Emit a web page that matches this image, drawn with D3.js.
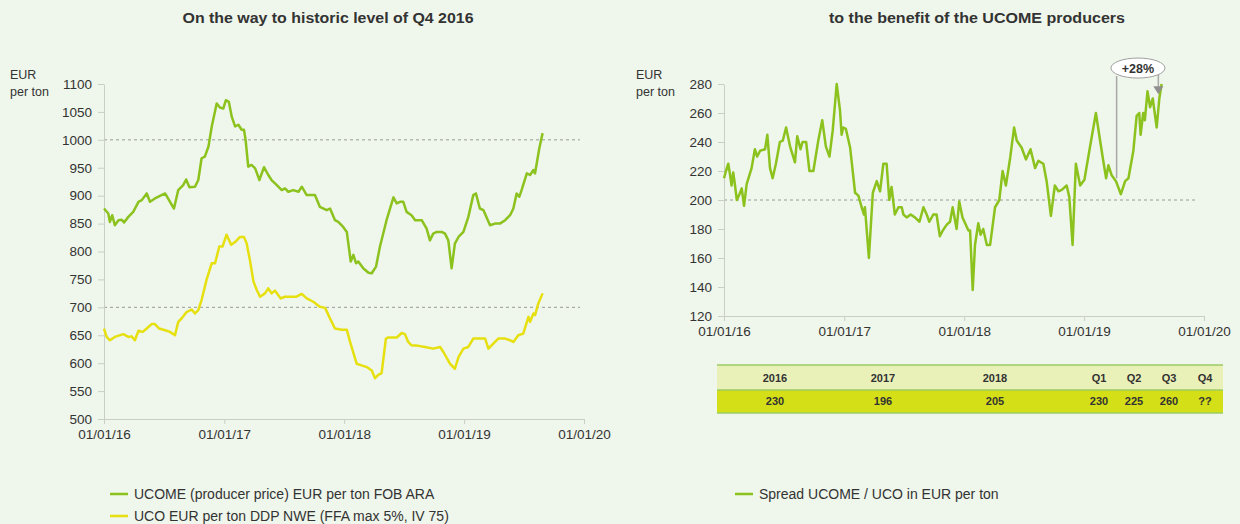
<!DOCTYPE html>
<html>
<head>
<meta charset="utf-8">
<script src="https://cdn.jsdelivr.net/npm/d3@7"></script>
<style>
  body { margin: 0; background: #eff6eb; }
  svg text { font-family: "Liberation Sans", Arial, sans-serif; fill: #333; }
</style>
</head>
<body>
<svg id="chart" width="1240" height="524"></svg>
<script>
// UCOME producer price, EUR per ton FOB ARA
const ucome = [
  ["2016-01-01",877],["2016-01-14",868],["2016-01-19",853],["2016-01-26",865],["2016-02-03",847],
  ["2016-02-14",856],["2016-02-24",857],["2016-03-02",852],["2016-03-15",862],["2016-03-30",871],
  ["2016-04-15",889],["2016-04-25",892],["2016-05-10",904],["2016-05-20",889],["2016-06-04",895],
  ["2016-07-05",904],["2016-07-20",889],["2016-08-01",877],["2016-08-14",910],["2016-08-29",919],
  ["2016-09-07",929],["2016-09-17",915],["2016-10-04",916],["2016-10-14",928],["2016-10-24",967],
  ["2016-11-03",970],["2016-11-14",988],["2016-11-24",1024],["2016-12-09",1065],["2016-12-19",1058],
  ["2016-12-29",1056],["2017-01-06",1071],["2017-01-15",1068],["2017-01-24",1041],["2017-02-03",1024],
  ["2017-02-13",1027],["2017-02-23",1018],["2017-03-02",1018],["2017-03-07",1000],["2017-03-15",952],
  ["2017-03-25",955],["2017-04-05",949],["2017-04-18",928],["2017-05-02",951],["2017-05-15",937],
  ["2017-05-25",928],["2017-06-10",919],["2017-06-25",910],["2017-07-05",913],["2017-07-15",907],
  ["2017-07-30",910],["2017-08-15",907],["2017-08-25",916],["2017-09-09",901],["2017-10-04",901],
  ["2017-10-19",880],["2017-11-09",874],["2017-11-19",877],["2017-12-04",856],["2017-12-14",853],
  ["2017-12-29",844],["2018-01-09",835],["2018-01-21",782],["2018-01-29",794],["2018-02-06",779],
  ["2018-02-13",782],["2018-02-28",770],["2018-03-16",762],["2018-03-26",761],["2018-04-08",773],
  ["2018-04-20",809],["2018-05-10",856],["2018-05-31",897],["2018-06-10",886],["2018-06-20",889],
  ["2018-06-30",889],["2018-07-10",871],["2018-07-25",865],["2018-08-05",856],["2018-08-25",856],
  ["2018-09-09",841],["2018-09-19",820],["2018-09-29",832],["2018-10-10",835],["2018-10-25",835],
  ["2018-11-04",832],["2018-11-14",820],["2018-11-24",770],["2018-12-04",814],["2018-12-15",826],
  ["2018-12-30",835],["2019-01-14",862],["2019-01-29",901],["2019-02-06",904],["2019-02-18",877],
  ["2019-03-01",874],["2019-03-21",847],["2019-04-05",850],["2019-04-20",850],["2019-05-06",856],
  ["2019-05-21",865],["2019-05-31",877],["2019-06-10",904],["2019-06-18",898],["2019-06-25",910],
  ["2019-07-11",940],["2019-07-21",937],["2019-07-31",946],["2019-08-05",940],["2019-08-18",985],
  ["2019-08-28",1012]
];

// UCO EUR per ton DDP NWE
const uco = [
  ["2016-01-01",662],["2016-01-09",647],["2016-01-19",641],["2016-02-03",647],["2016-02-29",652],
  ["2016-03-15",647],["2016-03-25",648],["2016-04-04",641],["2016-04-15",658],["2016-04-28",656],
  ["2016-05-10",662],["2016-05-25",670],["2016-06-04",670],["2016-06-17",662],["2016-07-05",659],
  ["2016-07-20",656],["2016-08-04",650],["2016-08-14",674],["2016-08-24",680],["2016-09-09",692],
  ["2016-09-24",696],["2016-10-04",689],["2016-10-14",695],["2016-10-24",713],["2016-11-08",749],
  ["2016-11-24",779],["2016-12-04",779],["2016-12-17",809],["2016-12-27",809],["2017-01-08",830],
  ["2017-01-22",812],["2017-02-03",817],["2017-02-18",826],["2017-03-02",826],["2017-03-10",815],
  ["2017-03-20",785],["2017-03-31",746],["2017-04-10",731],["2017-04-20",719],["2017-05-05",725],
  ["2017-05-15",734],["2017-05-25",725],["2017-06-04",730],["2017-06-22",716],["2017-07-05",719],
  ["2017-07-25",719],["2017-08-09",719],["2017-08-25",724],["2017-09-09",716],["2017-09-29",710],
  ["2017-10-19",701],["2017-11-04",699],["2017-11-19",680],["2017-12-04",662],["2017-12-24",660],
  ["2018-01-09",660],["2018-01-19",638],["2018-02-08",599],["2018-02-23",596],["2018-03-11",593],
  ["2018-03-26",587],["2018-04-05",573],["2018-04-15",579],["2018-04-25",582],["2018-05-08",644],
  ["2018-05-15",646],["2018-06-10",646],["2018-06-25",654],["2018-07-05",652],["2018-07-15",638],
  ["2018-07-25",632],["2018-08-15",631],["2018-09-04",629],["2018-09-29",626],["2018-10-20",629],
  ["2018-10-30",620],["2018-11-19",599],["2018-12-04",590],["2018-12-15",611],["2018-12-30",626],
  ["2019-01-14",629],["2019-01-29",644],["2019-02-18",644],["2019-03-06",644],["2019-03-16",626],
  ["2019-03-31",635],["2019-04-15",644],["2019-05-06",644],["2019-05-21",641],["2019-05-31",638],
  ["2019-06-15",650],["2019-06-30",653],["2019-07-16",683],["2019-07-21",674],["2019-07-31",689],
  ["2019-08-05",686],["2019-08-15",707],["2019-08-28",725]
];

// Spread UCOME / UCO in EUR per ton
const spread = [
  ["2016-01-01",215],["2016-01-07",220],["2016-01-14",225],["2016-01-19",218],["2016-01-24",210],
  ["2016-01-29",219],["2016-02-03",211],["2016-02-09",200],["2016-02-17",204],["2016-02-24",208],
  ["2016-03-02",196],["2016-03-10",211],["2016-03-25",222],["2016-04-04",235],["2016-04-11",230],
  ["2016-04-20",234],["2016-05-05",235],["2016-05-12",245],["2016-05-20",222],["2016-05-28",215],
  ["2016-06-07",225],["2016-06-19",240],["2016-06-28",241],["2016-07-08",250],["2016-07-20",237],
  ["2016-08-04",226],["2016-08-11",244],["2016-08-21",235],["2016-08-27",240],["2016-09-07",240],
  ["2016-09-17",220],["2016-09-29",220],["2016-10-14",241],["2016-10-26",255],["2016-11-06",237],
  ["2016-11-17",230],["2016-11-27",248],["2016-12-09",280],["2016-12-19",262],["2016-12-24",245],
  ["2016-12-29",250],["2017-01-06",249],["2017-01-19",236],["2017-02-03",205],["2017-02-13",203],
  ["2017-02-23",195],["2017-03-02",190],["2017-03-05",195],["2017-03-17",160],["2017-03-29",205],
  ["2017-04-10",213],["2017-04-20",206],["2017-04-30",225],["2017-05-10",225],["2017-05-18",200],
  ["2017-05-25",209],["2017-06-04",190],["2017-06-15",195],["2017-06-25",195],["2017-06-30",190],
  ["2017-07-10",188],["2017-07-22",190],["2017-08-04",188],["2017-08-18",185],["2017-08-30",195],
  ["2017-09-09",190],["2017-09-17",185],["2017-09-29",190],["2017-10-09",190],["2017-10-19",175],
  ["2017-10-28",179],["2017-11-09",183],["2017-11-19",185],["2017-11-27",195],["2017-12-09",180],
  ["2017-12-17",199],["2017-12-27",188],["2018-01-14",179],["2018-01-19",179],["2018-01-27",138],
  ["2018-02-03",169],["2018-02-13",184],["2018-02-20",176],["2018-02-28",180],["2018-03-11",169],
  ["2018-03-21",169],["2018-04-05",195],["2018-04-18",200],["2018-04-28",220],["2018-05-08",210],
  ["2018-05-21",229],["2018-06-02",250],["2018-06-10",241],["2018-06-25",236],["2018-07-08",228],
  ["2018-07-22",235],["2018-08-05",222],["2018-08-15",227],["2018-08-30",225],["2018-09-09",213],
  ["2018-09-22",189],["2018-10-04",210],["2018-10-15",206],["2018-10-25",207],["2018-11-09",210],
  ["2018-11-17",202],["2018-11-27",169],["2018-12-07",225],["2018-12-20",210],["2019-01-02",214],
  ["2019-01-17",234],["2019-02-06",260],["2019-02-16",245],["2019-02-27",229],["2019-03-09",215],
  ["2019-03-16",224],["2019-03-26",217],["2019-04-08",213],["2019-04-23",204],["2019-05-06",213],
  ["2019-05-16",215],["2019-05-31",234],["2019-06-10",258],["2019-06-18",260],["2019-06-22",245],
  ["2019-06-30",260],["2019-07-05",255],["2019-07-13",275],["2019-07-21",264],["2019-07-29",270],
  ["2019-08-10",250],["2019-08-18",270],["2019-08-25",280]
];

const yearTicks = ["2016-01-01", "2017-01-01", "2018-01-01", "2019-01-01", "2020-01-01"];
const priceTicks = d3.range(500, 1101, 50);
const spreadTicks = d3.range(120, 281, 20);
const priceRefLines = [1000, 700];
const spreadRefLines = [200];

// table under the spread chart
const tableHeads = ["2016", "2017", "2018", "Q1", "Q2", "Q3", "Q4"];
const tableValues = ["230", "196", "205", "230", "225", "260", "??"];

const greenColor = "#8cc21e";
const yellowColor = "#e6e010";

const parse = d3.timeParse("%Y-%m-%d");
const fmt = d3.timeFormat("%d/%m/%y");
const svg = d3.select("#chart");

svg.append("rect").attr("width", 1240).attr("height", 524).attr("fill", "#eff6eb");

function drawPanel(opts) {
  const x = d3.scaleTime().domain([parse(yearTicks[0]), parse(yearTicks[yearTicks.length - 1])]).range(opts.xRange);
  const y = d3.scaleLinear().domain(opts.yDomain).range(opts.yRange);
  const g = svg.append("g");

  // dashed reference lines
  g.selectAll("line.ref").data(opts.refs).join("line")
    .attr("class", "ref")
    .attr("x1", opts.xRange[0]).attr("x2", opts.refEnd)
    .attr("y1", d => y(d)).attr("y2", d => y(d))
    .attr("stroke", "#9a9a9a").attr("stroke-width", 1).attr("stroke-dasharray", "3,3");

  const yAxis = g.append("g")
    .attr("transform", "translate(" + opts.xRange[0] + ",0)")
    .call(d3.axisLeft(y).tickValues(opts.yTicks).tickFormat(d3.format("d")).tickSize(6).tickSizeOuter(0).tickPadding(6));
  const xAxis = g.append("g")
    .attr("transform", "translate(0," + opts.yRange[0] + ")")
    .call(d3.axisBottom(x).tickValues(yearTicks.map(parse)).tickFormat(fmt).tickSize(5).tickSizeOuter(0).tickPadding(5));

  [yAxis, xAxis].forEach(a => {
    a.select(".domain").attr("stroke", "#c9cfc6");
    a.selectAll(".tick line").attr("stroke", "#c9cfc6");
    a.selectAll(".tick text").attr("font-size", 13.5).attr("fill", "#333");
  });

  const line = d3.line().x(d => x(parse(d[0]))).y(d => y(d[1]));
  opts.series.forEach(s => {
    g.append("path").datum(s.data)
      .attr("d", line)
      .attr("fill", "none")
      .attr("stroke", s.color)
      .attr("stroke-width", 2.5)
      .attr("stroke-linejoin", "round");
  });

  // unit label
  const unit = g.append("text").attr("x", opts.unitX).attr("y", 79).attr("font-size", 12.5).attr("fill", "#444");
  unit.append("tspan").attr("x", opts.unitX).text("EUR");
  unit.append("tspan").attr("x", opts.unitX).attr("dy", 17).text("per ton");

  svg.append("text")
    .attr("x", opts.titleX).attr("y", 23)
    .attr("text-anchor", "middle")
    .attr("font-size", 14.5).attr("font-weight", "bold").attr("fill", "#555")
    .attr("textLength", opts.titleW).attr("lengthAdjust", "spacingAndGlyphs")
    .text(opts.title);

  return { x, y };
}

drawPanel({
  xRange: [104, 584], yDomain: [500, 1100], yRange: [419, 84],
  yTicks: priceTicks, refs: priceRefLines, refEnd: 580,
  series: [{ data: ucome, color: greenColor }, { data: uco, color: yellowColor }],
  unitX: 10, titleX: 328, titleW: 291, title: "On the way to historic level of Q4 2016"
});

const right = drawPanel({
  xRange: [724, 1204], yDomain: [120, 280], yRange: [316, 84],
  yTicks: spreadTicks, refs: spreadRefLines, refEnd: 1198,
  series: [{ data: spread, color: greenColor }],
  unitX: 636, titleX: 977, titleW: 296, title: "to the benefit of the UCOME producers"
});

// +28% annotation
const ax1 = right.x(parse("2019-04-10"));
const ax2 = right.x(parse("2019-08-15"));
const ex = right.x(parse("2019-06-14"));
const ey = right.y(291);
const tipY = right.y(273);
svg.append("line").attr("x1", ax1).attr("x2", ax1).attr("y1", ey + 8).attr("y2", right.y(215))
  .attr("stroke", "#a8a8a8").attr("stroke-width", 1.5);
svg.append("line").attr("x1", ax2).attr("x2", ax2).attr("y1", ey + 6).attr("y2", tipY - 7)
  .attr("stroke", "#a8a8a8").attr("stroke-width", 1.5);
svg.append("path")
  .attr("d", "M" + (ax2 - 5) + "," + (tipY - 8) + "L" + (ax2 + 5) + "," + (tipY - 8) + "L" + ax2 + "," + tipY + "Z")
  .attr("fill", "#8f8f8f");
svg.append("ellipse").attr("cx", ex).attr("cy", ey).attr("rx", 27).attr("ry", 10)
  .attr("fill", "#fff").attr("stroke", "#a0a0a0").attr("stroke-width", 1);
svg.append("text").attr("x", ex).attr("y", ey + 4.5).attr("text-anchor", "middle")
  .attr("font-size", 12.5).attr("font-weight", "bold").attr("fill", "#333").text("+28%");

// table
const colX = [775, 883, 995, 1099, 1134, 1169, 1205];
const tbl = svg.append("g");
tbl.append("rect").attr("x", 717).attr("y", 365).attr("width", 506).attr("height", 25).attr("fill", "#e9f0b8");
tbl.append("rect").attr("x", 717).attr("y", 390).attr("width", 506).attr("height", 23).attr("fill", "#d4df17");
[365, 390, 413].forEach(yy => {
  tbl.append("line").attr("x1", 717).attr("x2", 1223).attr("y1", yy).attr("y2", yy)
    .attr("stroke", "#9ccc65").attr("stroke-width", 1.5);
});
tbl.selectAll("text.head").data(tableHeads).join("text")
  .attr("class", "head").attr("x", (d, i) => colX[i]).attr("y", 382)
  .attr("text-anchor", "middle").attr("font-size", 11).attr("font-weight", "bold").attr("fill", "#333")
  .text(d => d);
tbl.selectAll("text.val").data(tableValues).join("text")
  .attr("class", "val").attr("x", (d, i) => colX[i]).attr("y", 405)
  .attr("text-anchor", "middle").attr("font-size", 11).attr("font-weight", "bold").attr("fill", "#333")
  .text(d => d);

// legends
const legendItems = [
  { x: 110, y: 494, color: greenColor, label: "UCOME (producer price) EUR per ton FOB ARA" },
  { x: 110, y: 516, color: yellowColor, label: "UCO EUR per ton DDP NWE (FFA max 5%, IV 75)" },
  { x: 735, y: 494, color: greenColor, label: "Spread UCOME / UCO in EUR per ton" }
];
const lg = svg.selectAll("g.legend").data(legendItems).join("g").attr("class", "legend");
lg.append("line").attr("x1", d => d.x).attr("x2", d => d.x + 18).attr("y1", d => d.y).attr("y2", d => d.y)
  .attr("stroke", d => d.color).attr("stroke-width", 2.5);
lg.append("text").attr("x", d => d.x + 24).attr("y", d => d.y + 5).attr("font-size", 14).attr("fill", "#333")
  .text(d => d.label);
</script>
</body>
</html>
